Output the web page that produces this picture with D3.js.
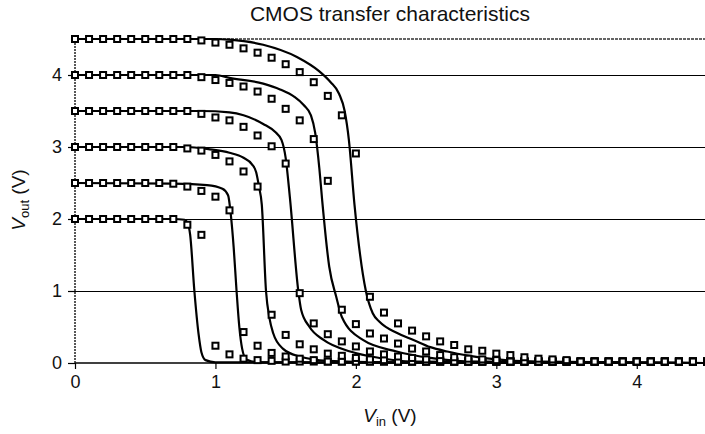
<!DOCTYPE html>
<html>
<head>
<meta charset="utf-8">
<script src="https://cdn.jsdelivr.net/npm/d3@7"></script>
<style>
  body { margin: 0; background: #fff; }
  text { font-family: "Liberation Sans", Arial, sans-serif; fill: #111; }
</style>
</head>
<body>
<div id="vis"></div>
<script>
// marker samples, Vin = 0.0 .. 4.5 step 0.1
var vin = [0,0.1,0.2,0.3,0.4,0.5,0.6,0.7,0.8,0.9,1.0,1.1,1.2,1.3,1.4,1.5,1.6,1.7,1.8,1.9,
           2.0,2.1,2.2,2.3,2.4,2.5,2.6,2.7,2.8,2.9,3.0,3.1,3.2,3.3,3.4,3.5,3.6,3.7,3.8,3.9,
           4.0,4.1,4.2,4.3,4.4,4.5];

var m20 = [2,2,2,2,2,2,2,2,1.92,1.78,0.24,0.12,0.06,0.04,0.03,
           0.02,0.02,0.02,0.02,0.02,0.02,0.02,0.02,0.02,0.02,0.02,0.02,0.02,0.02,0.02,0.02,
           0.02,0.02,0.02,0.02,0.02,0.02,0.02,0.02,0.02,0.02,0.02,0.02,0.02,0.02,0.02];
var m25 = [2.5,2.5,2.5,2.5,2.5,2.5,2.5,2.49,2.45,2.39,2.31,2.12,0.43,0.24,0.14,0.09,0.06,0.04,
           0.02,0.02,0.02,0.02,0.02,0.02,0.02,0.02,0.02,0.02,0.02,0.02,0.02,0.02,0.02,0.02,
           0.02,0.02,0.02,0.02,0.02,0.02,0.02,0.02,0.02,0.02,0.02,0.02];
var m30 = [3,3,3,3,3,3,3,3,2.98,2.95,2.89,2.80,2.66,2.45,0.67,0.39,0.26,0.19,0.13,0.10,0.07,0.05,0.04,
           0.02,0.02,0.02,0.02,0.02,0.02,0.02,0.02,0.02,0.02,0.02,0.02,0.02,0.02,0.02,0.02,
           0.02,0.02,0.02,0.02,0.02,0.02,0.02];
var m35 = [3.5,3.5,3.5,3.5,3.5,3.5,3.5,3.5,3.5,3.46,3.41,3.37,3.28,3.16,3.01,2.77,0.97,0.55,0.40,
           0.30,0.23,0.16,0.12,0.09,0.07,0.05,0.04,
           0.02,0.02,0.02,0.02,0.02,0.02,0.02,0.02,0.02,0.02,0.02,0.02,0.02,0.02,0.02,0.02,0.02,0.02,0.02];
var m40 = [4,4,4,4,4,4,4,4,4,3.97,3.93,3.89,3.84,3.77,3.67,3.53,3.37,3.11,2.53,0.74,0.54,0.41,
           0.34,0.27,0.20,0.16,0.11,0.08,0.06,0.05,0.04,
           0.02,0.02,0.02,0.02,0.02,0.02,0.02,0.02,0.02,0.02,0.02,0.02,0.02,0.02,0.02];
var m45 = [4.5,4.5,4.5,4.5,4.5,4.5,4.5,4.5,4.5,4.48,4.45,4.42,4.37,4.31,4.24,4.15,4.04,3.90,3.71,
           3.44,2.91,0.92,0.70,0.55,0.45,0.37,0.30,0.25,0.19,0.17,0.13,0.11,0.08,0.06,0.05,0.04,
           0.02,0.02,0.02,0.02,0.02,0.02,0.02,0.02,0.02,0.02];

// simulated curves, [Vin, Vout]
var l20 = [[0,2],[0.7,2],[0.78,1.99],[0.8,1.95],[0.82,1.78],[0.85,1.0],[0.88,0.4],[0.9,0.15],
           [0.93,0.04],[1.0,0.01],[4.5,0]];
var l25 = [[0,2.5],[0.7,2.49],[0.94,2.47],[1.05,2.42],[1.09,2.33],[1.11,2.05],[1.13,1.6],[1.15,1.01],
           [1.17,0.5],[1.19,0.2],[1.22,0.05],[1.3,0.01],[4.5,0]];
var l30 = [[0,3],[0.8,3],[0.95,2.97],[1.1,2.92],[1.2,2.85],[1.26,2.76],[1.29,2.65],[1.31,2.45],
           [1.33,2.2],[1.36,1.0],[1.385,0.62],[1.41,0.42],[1.48,0.2],[1.6,0.09],[1.8,0.03],[2.2,0.01],[4.5,0]];
var l35 = [[0,3.5],[0.9,3.5],[1.1,3.48],[1.2,3.44],[1.34,3.32],[1.43,3.2],[1.47,3.1],[1.5,2.85],
           [1.53,2.3],[1.59,1.0],[1.61,0.74],[1.67,0.5],[1.77,0.32],[1.96,0.16],[2.17,0.07],[2.4,0.02],[4.5,0]];
var l40 = [[0,4],[1.0,4],[1.1,3.96],[1.34,3.88],[1.46,3.8],[1.56,3.7],[1.63,3.58],[1.68,3.44],
           [1.71,3.2],[1.74,2.7],[1.76,2.26],[1.81,1.34],[1.86,0.92],[1.9,0.64],[2.05,0.32],[2.29,0.16],
           [2.53,0.07],[2.8,0.02],[4.5,0]];
var l45 = [[0,4.5],[1.0,4.5],[1.1,4.49],[1.34,4.42],[1.58,4.25],[1.74,4.05],[1.82,3.9],[1.88,3.74],
           [1.92,3.5],[1.95,3.1],[1.99,2.2],[2.07,1.01],[2.12,0.69],[2.17,0.57],[2.29,0.42],[2.41,0.32],
           [2.53,0.22],[2.65,0.16],[2.81,0.1],[3.0,0.05],[3.3,0.02],[4.5,0]];

var xTicks = [0,1,2,3,4];
var yTicks = [0,1,2,3,4];
var gridY = [1,2,3,4];

var markers = [m20,m25,m30,m35,m40,m45];
var lines = [l20,l25,l30,l35,l40,l45];

var W = 705, H = 434;
var svg = d3.select('#vis').append('svg').attr('width',W).attr('height',H);

var x = d3.scaleLinear().domain([0,4.5]).range([75,707]);
var y = d3.scaleLinear().domain([0,4.5]).range([363,39]);

svg.append('text')
  .attr('x', 390).attr('y', 21)
  .attr('text-anchor','middle')
  .style('font-size','21px')
  .text('CMOS transfer characteristics');

// grid
svg.selectAll('line.grid')
  .data(gridY).enter().append('line')
  .attr('class','grid')
  .attr('x1', x(0)-7).attr('x2', W)
  .attr('y1', function(d){ return Math.round(y(d)) + 0.5; })
  .attr('y2', function(d){ return Math.round(y(d)) + 0.5; })
  .attr('stroke','#000').attr('stroke-width',1);

// top border
svg.append('line')
  .attr('x1', x(0)).attr('x2', W).attr('y1', y(4.5)).attr('y2', y(4.5))
  .attr('stroke','#333').attr('stroke-width',1.5).attr('stroke-dasharray','3,1');

// axes
var yAxis = d3.axisLeft(y).tickValues(yTicks).tickSize(7).tickPadding(6).tickFormat(d3.format('d'));
var gy = svg.append('g').attr('transform','translate(' + x(0) + ',0)').call(yAxis);
gy.select('.domain').remove();
gy.selectAll('.tick line').attr('stroke','#000').attr('stroke-width',1.2);
gy.selectAll('.tick text').style('font-size','18px').attr('fill','#111');

var xAxis = d3.axisBottom(x).tickValues(xTicks).tickSize(6).tickPadding(6).tickFormat(d3.format('d'));
var gx = svg.append('g').attr('transform','translate(0,' + y(0) + ')').call(xAxis);
gx.select('.domain').remove();
gx.selectAll('.tick line').attr('stroke','#000').attr('stroke-width',1.2);
gx.selectAll('.tick text').style('font-size','18px').attr('fill','#111');

svg.append('line')
  .attr('x1', x(0)).attr('x2', W).attr('y1', y(0)).attr('y2', y(0))
  .attr('stroke','#000').attr('stroke-width',1.5);
svg.append('line')
  .attr('x1', x(0)).attr('x2', x(0)).attr('y1', y(0)).attr('y2', y(4.5))
  .attr('stroke','#222').attr('stroke-width',1.5).attr('stroke-dasharray','2,1');

// curves
var line = d3.line()
  .x(function(d){ return x(d[0]); })
  .y(function(d){ return y(d[1]); })
  .curve(d3.curveMonotoneX);

svg.selectAll('path.curve')
  .data(lines).enter().append('path')
  .attr('class','curve')
  .attr('d', line)
  .attr('fill','none').attr('stroke','#000').attr('stroke-width',2.2);

// square markers
markers.forEach(function(s){
  svg.selectAll(null)
    .data(s).enter().append('rect')
    .attr('x', function(d,i){ return x(vin[i]) - 3; })
    .attr('y', function(d){ return y(d) - 3; })
    .attr('width', 6).attr('height', 6)
    .attr('fill','#fff').attr('stroke','#000').attr('stroke-width',2);
});

// axis titles
var yl = svg.append('text')
  .attr('transform','translate(25,200) rotate(-90)')
  .attr('text-anchor','middle')
  .style('font-size','19px');
yl.append('tspan').style('font-style','italic').text('V');
yl.append('tspan').attr('dy',4).style('font-size','13px').text('out');
yl.append('tspan').attr('dy',-4).text(' (V)');

var xl = svg.append('text')
  .attr('x', 390).attr('y', 422)
  .attr('text-anchor','middle')
  .style('font-size','19px');
xl.append('tspan').style('font-style','italic').text('V');
xl.append('tspan').attr('dy',4).style('font-size','13px').text('in');
xl.append('tspan').attr('dy',-4).text(' (V)');
</script>
</body>
</html>
